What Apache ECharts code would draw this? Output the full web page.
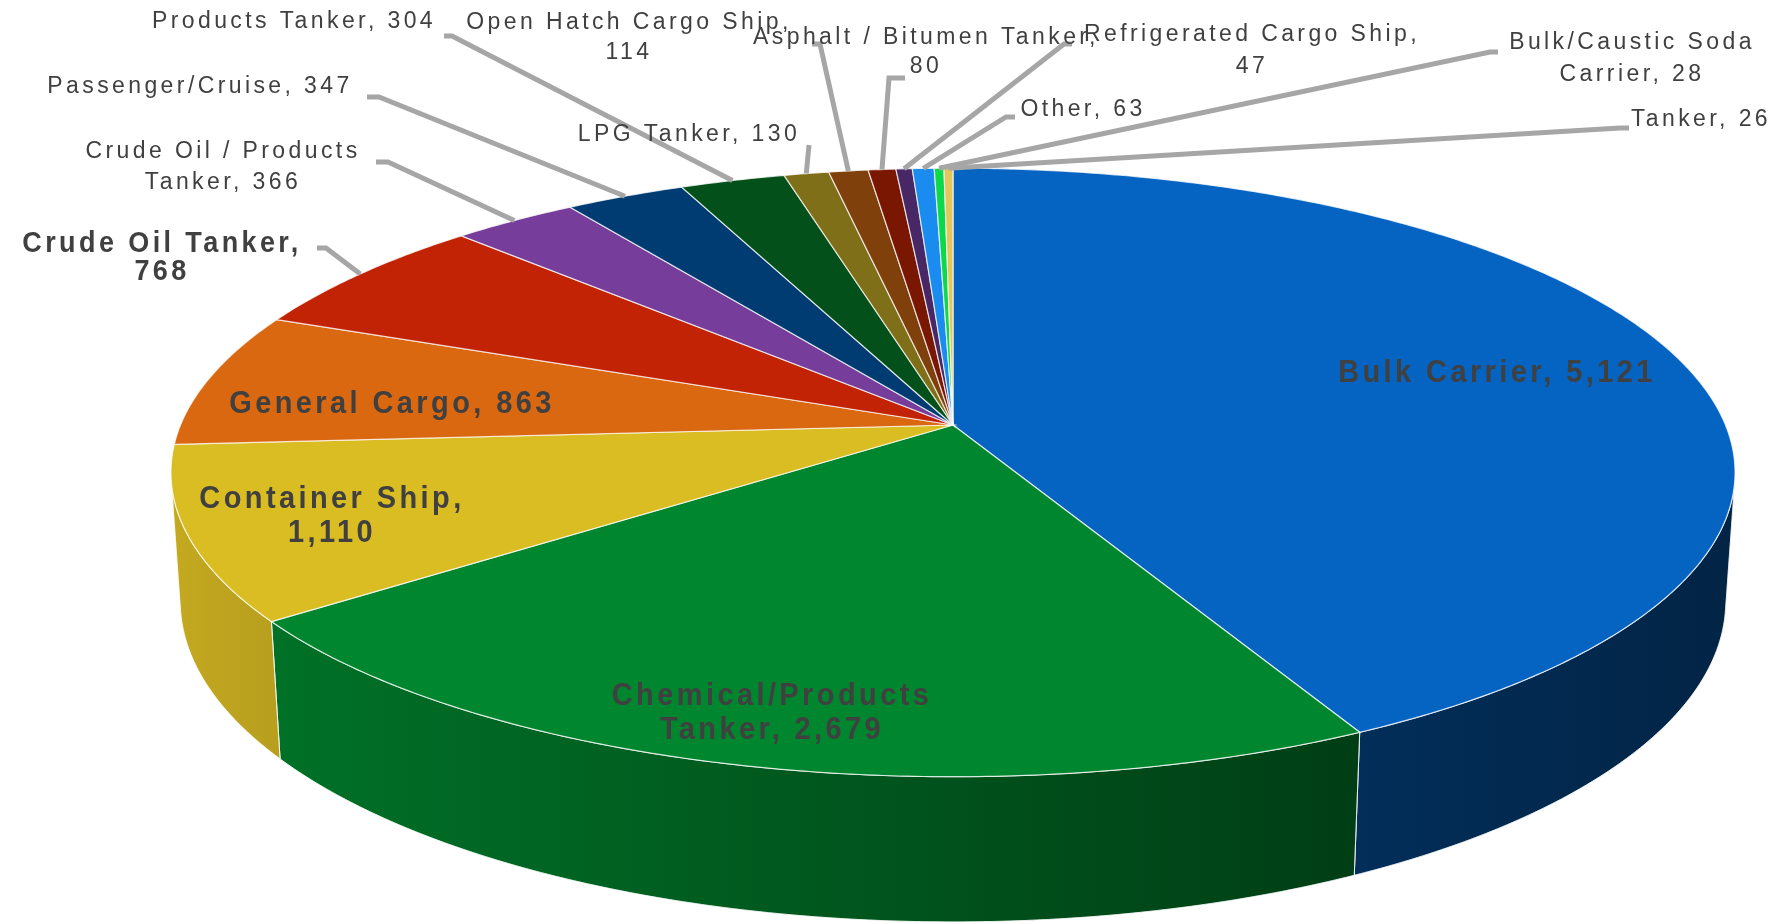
<!DOCTYPE html>
<html>
<head>
<meta charset="utf-8">
<title>Ships by type</title>
<script src="https://cdn.jsdelivr.net/npm/echarts@6/dist/echarts.min.js"></script>
<style>
	html, body { margin: 0; padding: 0; background: #fff; }
	#chart { width: 1779px; height: 924px; }
</style>
</head>
<body>
<div id="chart"></div>
<script>
// slices, clockwise from 12 o'clock
const names = [
	"Bulk Carrier", "Chemical/Products Tanker", "Container Ship", "General Cargo",
	"Crude Oil Tanker", "Crude Oil / Products Tanker", "Passenger/Cruise", "Products Tanker",
	"LPG Tanker", "Open Hatch Cargo Ship", "Asphalt / Bitumen Tanker", "Refrigerated Cargo Ship",
	"Other", "Bulk/Caustic Soda Carrier", "Tanker",
]
const values = [5121, 2679, 1110, 863, 768, 366, 347, 304, 130, 114, 80, 47, 63, 28, 26]
const colors = [
	"#0563C1", "#00862E", "#DABC23", "#DA6810", "#C22304", "#763D9A", "#003C72", "#03501A",
	"#7E6F18", "#80400B", "#7A1702", "#472765", "#1A8CF0", "#0BD84A", "#E3C75B",
]

// where each label sits (br = words on the first line, line = leader line start)
const labelLayout = [
	{ x: 1497, y: 373, bold: true, size: 29 },
	{ x: 772, y: 713, br: 1, lh: 31, bold: true, size: 29 },
	{ x: 332, y: 516, br: 2, lh: 31, bold: true, size: 29 },
	{ x: 392, y: 404, bold: true, size: 29 },
	{ x: 162, y: 258, br: 3, lh: 26, bold: true, size: 27, line: [[317, 248], [326, 248]] },
	{ x: 223, y: 167, br: 4, lh: 31, line: [[376, 162], [388, 162]] },
	{ x: 200, y: 87, line: [[367, 97], [379, 97]] },
	{ x: 294, y: 22, line: [[444, 36], [452, 36]] },
	{ x: 689, y: 135, line: [[809, 145]] },
	{ x: 629, y: 38, br: 4, lh: 30, line: [[812, 44], [820, 44]] },
	{ x: 926, y: 52, br: 4, lh: 29, line: [[905, 78], [889, 78]] },
	{ x: 1252, y: 51, br: 3, lh: 32, line: [[1072, 44], [1064, 44]] },
	{ x: 1083, y: 110, line: [[1015, 117], [1006, 117]] },
	{ x: 1632, y: 59, br: 2, lh: 32, line: [[1498, 52], [1490, 52]] },
	{ x: 1701, y: 120, line: [[1629, 128], [1620, 128]] },
]

const total = values.reduce((a, b) => a + b, 0)
const starts = []
const ends = []
let acc = 0
values.forEach((v) => {
	starts.push((acc / total) * 2 * Math.PI)
	acc += v
	ends.push((acc / total) * 2 * Math.PI)
})

// perspective camera looking down on the disc
const view = { cx: 953, cy: 425, focal: 4573, dist: 5.92, tilt: (22.6 * Math.PI) / 180, depth: 0.18 }
const sinT = Math.sin(view.tilt)
const cosT = Math.cos(view.tilt)

function project(theta, r, bottom) {
	const X = r * Math.sin(theta)
	const Z = -r * Math.cos(theta)
	const Y = bottom ? -view.depth : 0
	const d = view.dist - Y * sinT - Z * cosT
	return [view.cx + (view.focal * X) / d, view.cy + (view.focal * (Z * sinT - Y * cosT)) / d]
}

function arc(a, b, bottom) {
	const n = Math.max(2, Math.ceil((b - a) / (Math.PI / 360)))
	const pts = []
	for (let i = 0; i <= n; i++) pts.push(project(a + ((b - a) * i) / n, 1, bottom))
	return pts
}

// the side wall faces the camera only on this stretch
const wallFrom = Math.acos(-1 / (view.dist * cosT))
const wallTo = 2 * Math.PI - wallFrom

function shade(hex, theta) {
	const deg = (theta * 180) / Math.PI
	const f = Math.min(0.9, Math.max(0.36, 0.46 + (deg - 153) * 0.0048))
	const n = parseInt(hex.slice(1), 16)
	const c = [(n >> 16) & 255, (n >> 8) & 255, n & 255].map((v) => Math.round(v * f))
	return "rgb(" + c.join(",") + ")"
}

const renderWall = (params) => {
	const i = params.dataIndex
	const a = Math.max(starts[i], wallFrom)
	const b = Math.min(ends[i], wallTo)
	if (b <= a) return null
	const top = arc(a, b, false)
	const bot = arc(a, b, true).reverse()
	return {
		type: "polygon",
		shape: { points: top.concat(bot) },
		style: {
			fill: {
				type: "linear",
				x: top[0][0],
				y: 0,
				x2: top[top.length - 1][0],
				y2: 0,
				global: true,
				colorStops: [
					{ offset: 0, color: shade(colors[i], a) },
					{ offset: 1, color: shade(colors[i], b) },
				],
			},
			stroke: "rgba(255,255,255,0.55)",
			lineWidth: 1,
		},
	}
}

const renderTop = (params) => {
	const i = params.dataIndex
	return {
		type: "polygon",
		shape: { points: [[view.cx, view.cy]].concat(arc(starts[i], ends[i], false)) },
		style: { fill: colors[i], stroke: "rgba(255,255,255,0.75)", lineWidth: 1.2 },
	}
}

const renderLabel = (params) => {
	const i = params.dataIndex
	const lay = labelLayout[i]
	const words = (names[i] + ", " + values[i].toLocaleString("en-US")).split(" ")
	const text = lay.br ? words.slice(0, lay.br).join(" ") + "\n" + words.slice(lay.br).join(" ") : words.join(" ")
	const children = []
	if (lay.line) {
		const mid = (starts[i] + ends[i]) / 2
		children.push({
			type: "polyline",
			z2: 1,
			shape: { points: lay.line.concat([project(mid, 1, false)]) },
			style: { stroke: "#A6A6A6", lineWidth: 5, fill: null },
		})
	}
	children.push({
		type: "text",
		z2: 2,
		x: lay.x,
		y: lay.y,
		scaleY: lay.bold ? 1.1 : 1,
		style: {
			text: text,
			fill: "#404040",
			font: (lay.bold ? "bold " : "") + (lay.size || 23) + 'px "Liberation Sans", Arial, sans-serif',
			align: "center",
			verticalAlign: "middle",
			lineHeight: lay.lh || 30,
		},
	})
	return { type: "group", children: children }
}

const seriesData = values.map((v, i) => [i, v])

const option = {
	animation: false,
	series: [
		{ type: "custom", coordinateSystem: "none", z: 1, silent: true, data: seriesData, renderItem: renderWall },
		{ type: "custom", coordinateSystem: "none", z: 2, silent: true, data: seriesData, renderItem: renderTop },
		{ type: "custom", coordinateSystem: "none", z: 3, silent: true, data: seriesData, renderItem: renderLabel },
	],
}

const chart = echarts.init(document.getElementById("chart"))
chart.setOption(option)

// the labels in the original are set with wide tracking
const canvas = chart.getDom().querySelector("canvas")
if (canvas) {
	canvas.getContext("2d").letterSpacing = "3.4px"
	chart.setOption(option, true)
}
</script>
</body>
</html>
